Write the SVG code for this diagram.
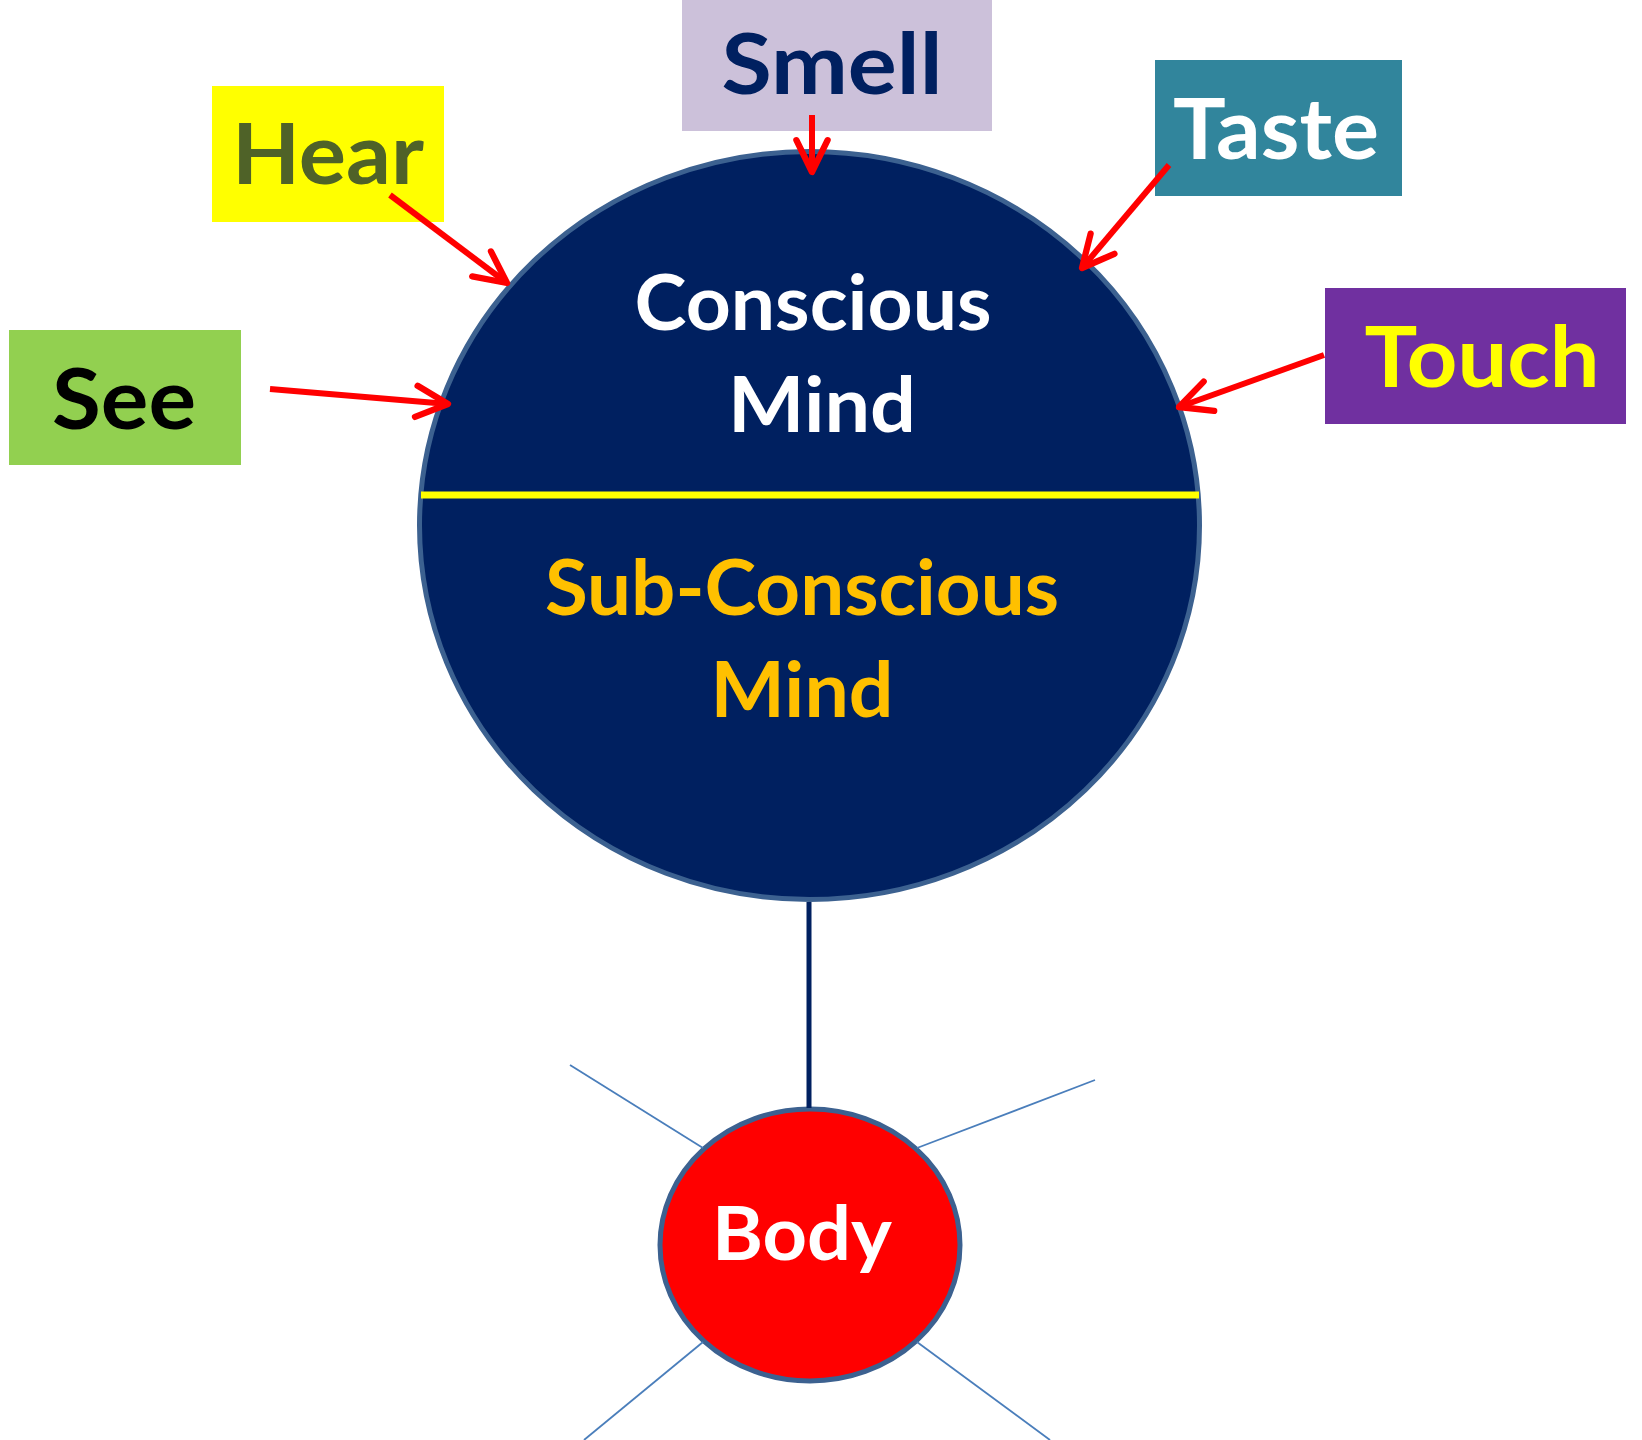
<svg xmlns="http://www.w3.org/2000/svg" width="1642" height="1440" viewBox="0 0 1642 1440">
<style>
text{font-family:Lato,"Open Sans","Liberation Sans",sans-serif;font-weight:bold;text-anchor:middle}
.lbl{font-size:84px}
.mind{font-size:77px}
.arrow{stroke:#ff0000;stroke-width:6;fill:none;marker-end:url(#arr)}
.spoke{stroke:#4a7ebb;stroke-width:1.8}
</style>
<defs>
<marker id="arr" viewBox="-6.5 -3.5 7.5 7" markerWidth="7.5" markerHeight="7" refX="0" refY="0" orient="auto">
<path d="M-5.3,-2.6 L0,0 L-5.3,2.6" fill="none" stroke="#ff0000" stroke-width="1.05" stroke-linejoin="round" stroke-linecap="round"/>
</marker>
</defs>
<rect width="1642" height="1440" fill="#ffffff"/>
<g id="mind">
<ellipse cx="809.5" cy="525.5" rx="390" ry="374" fill="#002060" stroke="#3c6190" stroke-width="5"/>
<line x1="421" y1="495" x2="1199" y2="495" stroke="#ffff00" stroke-width="7"/>
<text class="mind" x="813" y="330" fill="#ffffff" textLength="357" lengthAdjust="spacingAndGlyphs">Conscious</text>
<text class="mind" x="822" y="432" fill="#ffffff" textLength="188" lengthAdjust="spacingAndGlyphs">Mind</text>
<text class="mind" x="802" y="615" fill="#ffc000" textLength="514" lengthAdjust="spacingAndGlyphs">Sub-Conscious</text>
<text class="mind" x="802" y="717" fill="#ffc000" textLength="183" lengthAdjust="spacingAndGlyphs">Mind</text>
</g>
<g id="body">
<ellipse cx="810" cy="1245" rx="150" ry="136" fill="#ff0000" stroke="#3c6190" stroke-width="5"/>
<text x="802" y="1260" font-size="75" fill="#ffffff" textLength="180" lengthAdjust="spacingAndGlyphs">Body</text>
</g>
<g id="smell">
<rect x="682" y="0" width="310" height="131" fill="#ccc1da"/>
<text class="lbl" x="832" y="94" fill="#002060" textLength="221" lengthAdjust="spacingAndGlyphs">Smell</text>
</g>
<g id="hear">
<rect x="212" y="86" width="232" height="136" fill="#ffff00"/>
<text class="lbl" x="328" y="184" fill="#4f6228" textLength="192" lengthAdjust="spacingAndGlyphs">Hear</text>
</g>
<g id="taste">
<rect x="1155" y="60" width="247" height="136" fill="#31859c"/>
<text class="lbl" x="1276" y="159" fill="#ffffff" textLength="206" lengthAdjust="spacingAndGlyphs">Taste</text>
</g>
<g id="see">
<rect x="9" y="330" width="232" height="135" fill="#92d050"/>
<text class="lbl" x="124" y="429" fill="#000000" textLength="144" lengthAdjust="spacingAndGlyphs">See</text>
</g>
<g id="touch">
<rect x="1325" y="288" width="301" height="136" fill="#7030a0"/>
<text class="lbl" x="1482" y="387" fill="#ffff00" textLength="235" lengthAdjust="spacingAndGlyphs">Touch</text>
</g>
<g id="connectors">
<line x1="809" y1="902" x2="809" y2="1108" stroke="#002060" stroke-width="5"/>
<line class="spoke" x1="570" y1="1065" x2="703" y2="1148"/>
<line class="spoke" x1="1095" y1="1080" x2="917" y2="1148"/>
<line class="spoke" x1="703" y1="1342" x2="584" y2="1440"/>
<line class="spoke" x1="917" y1="1342" x2="1050" y2="1440"/>
<line class="arrow" x1="812" y1="115" x2="812" y2="172"/>
<line class="arrow" x1="390" y1="195" x2="507" y2="283"/>
<line class="arrow" x1="1169" y1="165" x2="1082" y2="268"/>
<line class="arrow" x1="270" y1="389" x2="448" y2="404"/>
<line class="arrow" x1="1324" y1="355" x2="1179" y2="407"/>
</g>
</svg>
